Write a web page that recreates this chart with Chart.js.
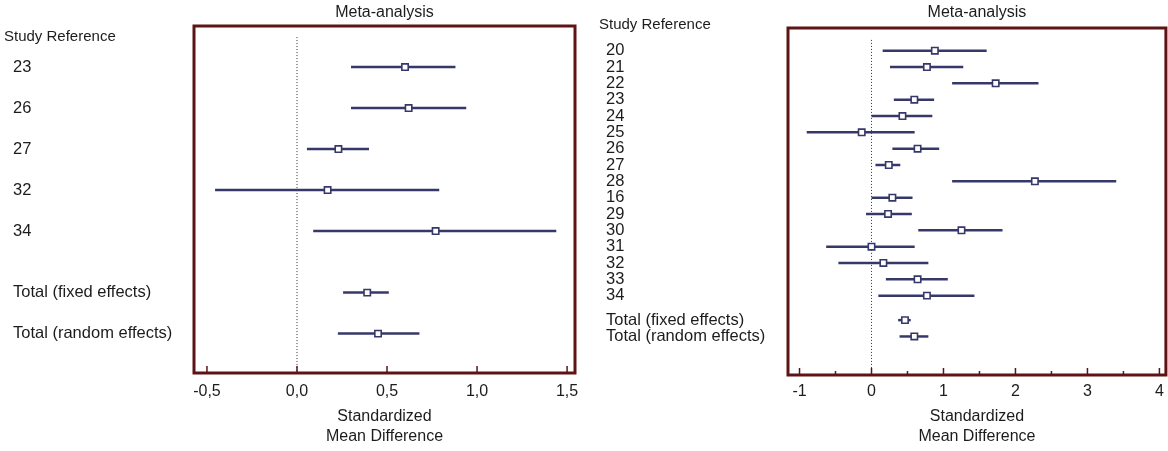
<!DOCTYPE html>
<html>
<head>
<meta charset="utf-8">
<script src="https://cdn.jsdelivr.net/npm/chart.js@4.4.1/dist/chart.umd.min.js"></script>
<style>
  body { margin: 0; background: #fff; overflow: hidden; }
  #wrap { position: relative; width: 1168px; height: 451px; overflow: hidden; }
  canvas { position: absolute; top: 0; }
</style>
</head>
<body>
<div id="wrap">
  <canvas id="left" width="590" height="451" style="left:0"></canvas>
  <canvas id="right" width="582" height="451" style="left:590px"></canvas>
</div>
<script>
const FONT = "'Liberation Sans', Arial, sans-serif";
const INK = '#1c1c1c';
const CI_COLOR = '#37386a';
const FRAME = '#5e1414';

// left panel: subset of studies
const leftStudies = ['23', '26', '27', '32', '34', 'Total (fixed effects)', 'Total (random effects)'];
const leftRows = [0, 1, 2, 3, 4, 5.5, 6.5];
const leftEst = [0.60, 0.62, 0.23, 0.17, 0.77, 0.39, 0.45];
const leftLo = [0.30, 0.30, 0.055, -0.455, 0.09, 0.256, 0.227];
const leftHi = [0.88, 0.94, 0.40, 0.79, 1.44, 0.51, 0.68];
const leftXTicks = [-0.5, 0, 0.5, 1, 1.5];
const leftXLabels = ['-0,5', '0,0', '0,5', '1,0', '1,5'];
const leftMinor = [];

// right panel: all studies
const rightStudies = ['20', '21', '22', '23', '24', '25', '26', '27', '28', '16', '29', '30', '31', '32', '33', '34',
  'Total (fixed effects)', 'Total (random effects)'];
const rightRows = [0, 1, 2, 3, 4, 5, 6, 7, 8, 9, 10, 11, 12, 13, 14, 15, 16.5, 17.5];
const rightEst = [0.88, 0.77, 1.725, 0.595, 0.43, -0.136, 0.64, 0.24, 2.27, 0.29, 0.23, 1.25, 0.0, 0.165, 0.64, 0.77, 0.465, 0.595];
const rightLo = [0.155, 0.257, 1.12, 0.31, 0.0, -0.9, 0.29, 0.055, 1.12, 0.0, -0.076, 0.65, -0.63, -0.46, 0.20, 0.095, 0.37, 0.39];
const rightHi = [1.60, 1.275, 2.32, 0.87, 0.845, 0.60, 0.94, 0.40, 3.40, 0.57, 0.56, 1.82, 0.60, 0.79, 1.06, 1.43, 0.545, 0.79];
const rightXTicks = [-1, 0, 1, 2, 3, 4];
const rightXLabels = ['-1', '0', '1', '2', '3', '4'];
const rightMinor = [-0.5, 0.5, 1.5, 2.5, 3.5];

function forestPanel(id, p) {
  const ctx = document.getElementById(id).getContext('2d');

  const estimates = {
    data: p.rows.map((r, i) => ({ x: p.est[i], y: r })),
    pointStyle: 'rect',
    pointRadius: 4.5,
    pointBackgroundColor: '#fff',
    pointBorderColor: CI_COLOR,
    pointBorderWidth: 1.6
  };
  const intervals = p.rows.map((r, i) => ({
    data: [{ x: p.lo[i], y: r }, { x: p.hi[i], y: r }],
    showLine: true,
    borderColor: CI_COLOR,
    borderWidth: 2.5,
    pointRadius: 0
  }));
  const zeroLine = {
    data: [{ x: 0, y: p.zeroTop }, { x: 0, y: p.yMax }],
    showLine: true,
    borderColor: '#333',
    borderWidth: 1,
    borderDash: [1, 2],
    pointRadius: 0
  };

  const framePlugin = {
    id: 'frame',
    afterDraw(chart) {
      const c = chart.ctx;
      const a = chart.chartArea;
      const x = chart.scales.x;
      c.save();
      c.strokeStyle = FRAME;
      c.lineWidth = 3;
      c.strokeRect(a.left, a.top, a.right - a.left, a.bottom - a.top);
      c.lineWidth = 1.5;
      c.beginPath();
      p.xTicks.forEach(v => {
        const px = x.getPixelForValue(v);
        c.moveTo(px, a.bottom);
        c.lineTo(px, a.bottom - 7);
      });
      p.minor.forEach(v => {
        const px = x.getPixelForValue(v);
        c.moveTo(px, a.bottom);
        c.lineTo(px, a.bottom - 4);
      });
      c.stroke();
      c.fillStyle = INK;
      c.font = '15px ' + FONT;
      c.textBaseline = 'middle';
      c.textAlign = 'left';
      c.fillText('Study Reference', p.headX, p.headY);
      c.restore();
    }
  };

  return new Chart(ctx, {
    type: 'scatter',
    data: { datasets: [estimates, ...intervals, zeroLine] },
    plugins: [framePlugin],
    options: {
      responsive: false,
      animation: false,
      layout: { padding: { left: p.padLeft, right: p.padRight, top: 0, bottom: 0 } },
      plugins: {
        legend: { display: false },
        tooltip: { enabled: false },
        title: {
          display: true,
          text: 'Meta-analysis',
          fullSize: false,
          color: INK,
          font: { family: FONT, size: 16, weight: 'normal', lineHeight: 1.25 },
          padding: { top: 3, bottom: p.titleBottom }
        }
      },
      scales: {
        x: {
          type: 'linear',
          min: p.xMin,
          max: p.xMax,
          afterBuildTicks: s => { s.ticks = p.xTicks.map(v => ({ value: v })); },
          afterFit: s => { s.height = p.xHeight; s.paddingLeft = 0; s.paddingRight = 0; },
          ticks: {
            callback: v => p.xLabels[p.xTicks.indexOf(v)],
            autoSkip: false,
            maxRotation: 0,
            padding: p.xPad,
            color: INK,
            font: { family: FONT, size: 16 }
          },
          grid: { display: false, drawTicks: false },
          border: { display: false },
          title: {
            display: true,
            text: ['Standardized', 'Mean Difference'],
            color: INK,
            font: { family: FONT, size: 16, lineHeight: 1.25 },
            padding: { top: 0, bottom: 4 }
          }
        },
        y: {
          type: 'linear',
          reverse: true,
          min: p.yMin,
          max: p.yMax,
          afterBuildTicks: s => { s.ticks = p.rows.map(v => ({ value: v })); },
          afterFit: s => { s.width = p.yWidth; s.paddingTop = 0; s.paddingBottom = 0; },
          ticks: {
            callback: v => p.labels[p.rows.indexOf(v)],
            autoSkip: false,
            crossAlign: 'far',
            color: INK,
            font: { family: FONT, size: 16.5 }
          },
          grid: { display: false, drawTicks: false },
          border: { display: false }
        }
      }
    }
  });
}

forestPanel('left', {
  labels: leftStudies, rows: leftRows, est: leftEst, lo: leftLo, hi: leftHi,
  xTicks: leftXTicks, xLabels: leftXLabels, minor: leftMinor,
  xMin: -0.572, xMax: 1.544, yMin: -1.0, yMax: 7.46, zeroTop: -0.73,
  padLeft: 13, padRight: 15, yWidth: 181, xHeight: 78, xPad: 9, titleBottom: 3,
  headX: 4, headY: 37
});

forestPanel('right', {
  labels: rightStudies, rows: rightRows, est: rightEst, lo: rightLo, hi: rightHi,
  xTicks: rightXTicks, xLabels: rightXLabels, minor: rightMinor,
  xMin: -1.16, xMax: 4.09, yMin: -1.39, yMax: 19.86, zeroTop: -0.66,
  padLeft: 16, padRight: 2, yWidth: 182, xHeight: 76, xPad: 7, titleBottom: 5,
  headX: 9, headY: 25
});
</script>
</body>
</html>
